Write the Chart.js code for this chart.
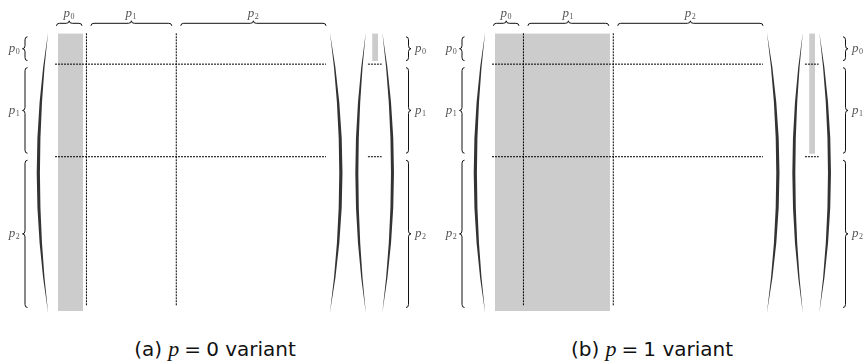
<!DOCTYPE html>
<html>
<head>
<meta charset="utf-8">
<script src="https://cdn.jsdelivr.net/npm/chart.js@4/dist/chart.umd.min.js"></script>
<style>
  body { margin: 0; background: #fff; width: 867px; height: 364px; position: relative; overflow: hidden; }
  .panel { position: absolute; top: 0; }
  .cap { position: absolute; top: 337px; font-family: "DejaVu Sans", sans-serif; font-size: 20px; color: #111;
         transform: translateX(-50%); white-space: nowrap; line-height: 23px; }
  .cap i { font-family: "Liberation Serif", serif; font-size: 22px; }
  .cap .eq { margin: 0 5px; }
</style>
</head>
<body>
<div class="panel" style="left:0"><canvas id="chartA" width="430" height="330"></canvas></div>
<div class="panel" style="left:437px"><canvas id="chartB" width="430" height="330"></canvas></div>
<div class="cap" style="left:215px">(a) <i>p</i><span class="eq">=</span>0 variant</div>
<div class="cap" style="left:652px">(b) <i>p</i><span class="eq">=</span>1 variant</div>
<script>
// блоки матрицы (одинаковые по строкам и столбцам)
const blockNames = ['0', '1', '2'];     // индексы p_0, p_1, p_2
const blockSizes = [1, 3, 5];
const variants = [0, 1];               // значение p для панелей (a) и (b)

const bounds = [0];
blockSizes.forEach(s => bounds.push(bounds[bounds.length - 1] + s));
const total = bounds[bounds.length - 1];

const GRAY = '#cccccc';
const VEC_L = 10.54, VEC_R = 10.74;     // серая полоса вектора
const VEC_DL = 10.40, VEC_DR = 10.86;   // пунктир вектора
const X_MAX = 11;                       // ось x доходит до вектора, чтобы заливка не обрезалась
const UNIT = (326 - 56.5) / 9;          // пикселей на единицу

function segment(data, dash) {
  return { data, borderColor: '#000', borderWidth: 1, borderDash: dash, pointRadius: 0, fill: false, order: 1, clip: false };
}

function paren(ctx, xEnd, xMid, yTop, yBot, w) {
  const s = Math.sign(xMid - xEnd);
  const ym = (yTop + yBot) / 2;
  ctx.beginPath();
  ctx.moveTo(xEnd, yTop);
  ctx.quadraticCurveTo(2 * xMid - xEnd, ym, xEnd, yBot);
  ctx.quadraticCurveTo(2 * (xMid - s * w) - xEnd, ym, xEnd, yTop);
  ctx.closePath();
  ctx.fill();
}

// фигурная скобка от A к B, остриё слева от направления
function brace(ctx, ax, ay, bx, by) {
  const L = Math.hypot(bx - ax, by - ay);
  const d = 5, h = d / 2, r = 3;
  ctx.save();
  ctx.translate(ax, ay);
  ctx.rotate(Math.atan2(by - ay, bx - ax));
  ctx.beginPath();
  ctx.moveTo(0, 0);
  ctx.quadraticCurveTo(0, -h, r, -h);
  ctx.lineTo(L / 2 - r, -h);
  ctx.quadraticCurveTo(L / 2, -h, L / 2, -d);
  ctx.quadraticCurveTo(L / 2, -h, L / 2 + r, -h);
  ctx.lineTo(L - r, -h);
  ctx.quadraticCurveTo(L, -h, L, 0);
  ctx.stroke();
  ctx.restore();
}

function label(ctx, idx, x, y, align) {
  const fp = 'italic 13px "Liberation Serif", serif', fs = '8px "Liberation Serif", serif';
  ctx.font = fp;
  const w1 = ctx.measureText('p').width;
  ctx.font = fs;
  const w2 = ctx.measureText(idx).width;
  const x0 = align === 'left' ? x : x - (w1 + w2 + 1) / 2;
  ctx.textBaseline = 'middle';
  ctx.textAlign = 'left';
  ctx.font = fp;
  ctx.fillText('p', x0, y);
  ctx.font = fs;
  ctx.fillText(idx, x0 + w1 + 0.5, y + 3.5);
}

const decor = {
  id: 'decor',
  afterDraw(chart) {
    const ctx = chart.ctx, xs = chart.scales.x, ys = chart.scales.y;
    const X = v => xs.getPixelForValue(v), Y = v => ys.getPixelForValue(v);
    const yT = Y(0) - 1, yB = Y(total) + 2;
    ctx.save();
    ctx.fillStyle = '#333';
    paren(ctx, X(-0.28), X(-0.66), yT, yB, 3.2);
    paren(ctx, X(total + 0.13), X(total + 0.55), yT, yB, 3.2);
    paren(ctx, X(10.33), X(9.98), yT, yB, 3);
    paren(ctx, X(10.88), X(11.27), yT, yB, 3);

    ctx.strokeStyle = '#111';
    ctx.lineWidth = 1;
    ctx.fillStyle = '#555';
    const n = blockSizes.length;
    for (let i = 0; i < n; i++) {
      // сверху
      const x1 = X(bounds[i]) + (i === 0 ? 0 : 4.5);
      const x2 = X(bounds[i + 1]) - (i === n - 1 ? 0 : 4.5);
      const yTop = Y(0) - 7.5;
      brace(ctx, x1, yTop, x2, yTop);
      label(ctx, blockNames[i], (x1 + x2) / 2, Y(0) - 20, 'center');
      // слева и справа
      const y1 = Y(bounds[i]) + 3.5, y2 = Y(bounds[i + 1]) - 3.5;
      const xl = X(0) - 29;
      brace(ctx, xl, y2, xl, y1);
      label(ctx, blockNames[i], xl - 13, (y1 + y2) / 2, 'center');
      const xr = X(total) + 80;
      brace(ctx, xr, y1, xr, y2);
      label(ctx, blockNames[i], xr + 9, (y1 + y2) / 2, 'left');
    }
    ctx.restore();
  }
};

function makeChart(id, p) {
  const datasets = [
    { data: [{ x: 0.05, y: 0 }, { x: bounds[p + 1] - 0.11, y: 0 }], fill: { value: total },
      backgroundColor: GRAY, borderWidth: 0, pointRadius: 0, order: 3, clip: false },
    { data: [{ x: VEC_L, y: 0 }, { x: VEC_R, y: 0 }], fill: { value: bounds[p + 1] - 0.1 },
      backgroundColor: GRAY, borderWidth: 0, pointRadius: 0, order: 3, clip: false }
  ];
  bounds.slice(1, -1).forEach(b => {
    datasets.push(segment([{ x: b, y: 0 }, { x: b, y: total - 0.17 }], [2, 1]));
    datasets.push(segment([{ x: -0.05, y: b }, { x: total, y: b }], [2, 1]));
    datasets.push(segment([{ x: VEC_DL, y: b }, { x: VEC_DR, y: b }], [2, 1]));
  });

  new Chart(document.getElementById(id), {
    type: 'line',
    data: { datasets },
    options: {
      responsive: false,
      animation: false,
      events: [],
      layout: { padding: { left: 56.5, right: 430 - 56.5 - X_MAX * UNIT, top: 33.3, bottom: 19 } },
      scales: {
        x: { type: 'linear', min: 0, max: X_MAX, display: false },
        y: { type: 'linear', min: 0, max: total, reverse: true, display: false }
      },
      plugins: { legend: { display: false }, tooltip: { enabled: false } }
    },
    plugins: [decor]
  });
}

makeChart('chartA', variants[0]);
makeChart('chartB', variants[1]);
</script>
</body>
</html>
